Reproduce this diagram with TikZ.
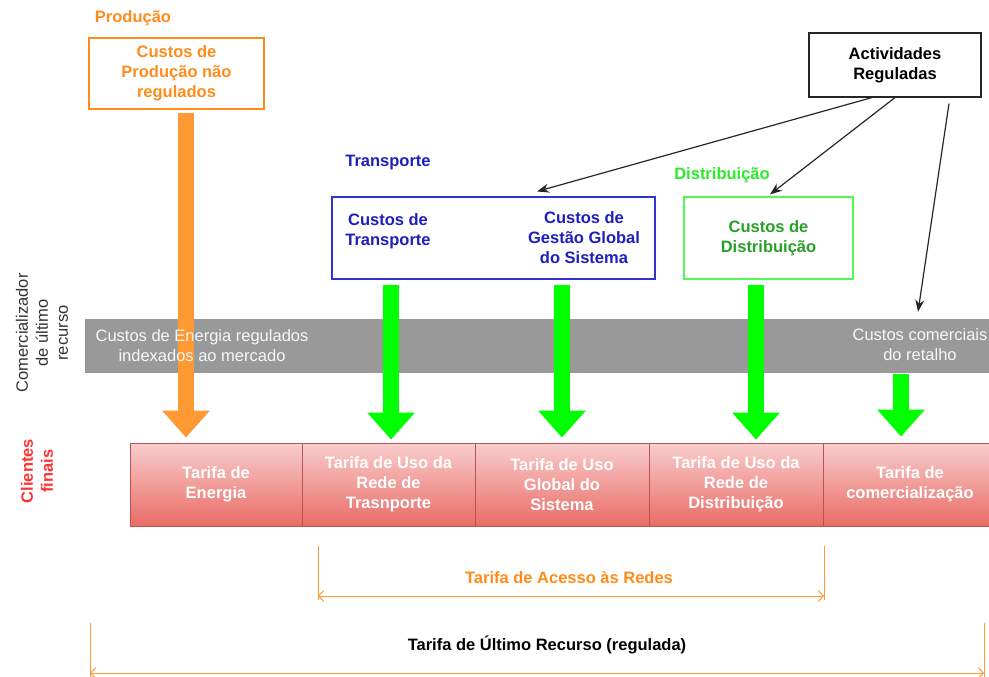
\documentclass[tikz,border=0pt]{standalone}
\usepackage{fontspec}
\setmainfont{Liberation Sans}
\usetikzlibrary{arrows.meta}
\definecolor{prodorange}{RGB}{255,140,26}
\definecolor{arrorange}{RGB}{255,153,51}
\definecolor{transblue}{RGB}{30,30,190}
\definecolor{transedge}{RGB}{50,50,210}
\definecolor{distlbl}{RGB}{40,235,40}
\definecolor{distedge}{RGB}{80,250,80}
\definecolor{disttext}{RGB}{40,160,40}
\definecolor{arrgreen}{RGB}{0,255,0}
\definecolor{bandgray}{RGB}{153,153,153}
\definecolor{clired}{RGB}{255,51,51}
\definecolor{pinktop}{RGB}{248,206,204}
\definecolor{pinkbot}{RGB}{234,107,102}
\definecolor{pinkedge}{RGB}{184,84,80}
\begin{document}
\begin{tikzpicture}[x=1pt,y=-1pt,
  every node/.style={font=\fontsize{16.5}{20}\selectfont\bfseries, align=center, inner sep=0pt},
  costbox/.style={draw=#1, line width=1.1pt},
  tarifa/.style={draw=pinkedge, line width=0.8pt, top color=pinktop, bottom color=pinkbot, text=white, minimum width=#1, minimum height=83pt},
  bandtext/.style={font=\fontsize{16.5}{20}\selectfont, text=white!97!black},
  bigarrow/.style={line width=16pt, -{Triangle[length=27pt,width=46pt]}},
  conn/.style={draw=black!85, line width=1.2pt, -{Stealth[length=12pt,width=9pt]}},
  brk/.style={draw=arrorange, line width=1pt},
  dim/.style={brk, {Straight Barb[length=5pt,width=11pt]}-{Straight Barb[length=5pt,width=11pt]}}]
\useasboundingbox (0,0) rectangle (989,677);

\node[text=prodorange] (prodlbl) at (133,18) {Produção};
\node[costbox=prodorange, text=prodorange, minimum width=175pt, minimum height=71pt] (prod) at (176.5,73.5) {Custos de\\Produção não\\regulados};

\node[text=transblue] (translbl) at (388,163) {Transporte};
\node[costbox=transedge, minimum width=323pt, minimum height=82pt] (trans) at (493.5,238) {};
\node[text=transblue] (transtxt) at (388,231) {Custos de\\Transporte};
\node[text=transblue] (gesttxt) at (584,238) {Custos de\\Gestão Global\\do Sistema};

\node[text=distlbl] (distlbl) at (722,175) {Distribuição};
\node[costbox=distedge, text=disttext, minimum width=169pt, minimum height=82pt] (dist) at (768.5,238) {Custos de\\Distribuição};

\node[costbox=black!85, minimum width=172pt, minimum height=64pt] (act) at (895,65) {Actividades\\Reguladas};

\node[fill=bandgray, minimum width=910pt, minimum height=54pt] (band) at (540,346) {};

\node[tarifa=172pt] (en) at (216,484.5) {Tarifa de\\Energia};
\node[tarifa=173pt] (tr) at (388.5,484.5) {Tarifa de Uso da\\Rede de\\Trasnporte};
\node[tarifa=174pt] (gl) at (562,484.5) {Tarifa de Uso\\Global do\\Sistema};
\node[tarifa=174pt] (rd) at (736,484.5) {Tarifa de Uso da\\Rede de\\Distribuição};
\node[tarifa=174pt] (com) at (910,484.5) {Tarifa de\\comercialização};

\draw[bigarrow, draw=arrorange] ([xshift=9.5pt,yshift=-3pt]prod.south) -- ([xshift=-30pt,yshift=5pt]en.north);
\draw[bigarrow, draw=arrgreen] ([xshift=-102.5pt,yshift=-5pt]trans.south) -- ([xshift=2.5pt,yshift=3pt]tr.north);
\draw[bigarrow, draw=arrgreen] ([xshift=68.5pt,yshift=-5pt]trans.south) -- ([yshift=5pt]gl.north);
\draw[bigarrow, draw=arrgreen] ([xshift=-12.5pt,yshift=-5pt]dist.south) -- ([xshift=20pt,yshift=3pt]rd.north);
\draw[bigarrow, draw=arrgreen] ([xshift=361pt,yshift=-1pt]band.south) -- ([xshift=-9pt,yshift=6pt]com.north);

\node[bandtext] (enertxt) at (202,346) {Custos de Energia regulados\\indexados ao mercado};
\node[bandtext] (ret) at (920,345) {Custos comerciais\\do retalho};

\draw[conn] ([xshift=-23pt]act.south) -- ([xshift=43.5pt,yshift=5pt]trans.north);
\draw[conn] (act.south) -- ([xshift=1.5pt,yshift=2pt]dist.north);
\draw[conn] ([xshift=54pt,yshift=-6pt]act.south) -- ([xshift=378pt,yshift=7pt]band.north);

\node[rotate=90, font=\fontsize{16.5}{20}\selectfont, text=black!80] (comerc) at (42,333) {Comercializador\\de último\\recurso};
\node[rotate=90, text=clired] (cli) at (37,471) {Clientes\\finais};

\coordinate (acl) at (318,596);
\coordinate (acr) at (824,596);
\draw[brk] (318,546) -- (318,600) (824,546) -- (824,600);
\draw[dim] (acl) -- (acr);
\node[text=prodorange] (acesso) at (569,578) {Tarifa de Acesso às Redes};

\coordinate (turl) at (90,673);
\coordinate (turr) at (984,673);
\draw[brk] (90,623) -- (90,677) (984,623) -- (984,677);
\draw[dim] (turl) -- (turr);
\node (tur) at (547,645) {Tarifa de Último Recurso (regulada)};
\end{tikzpicture}
\end{document}
